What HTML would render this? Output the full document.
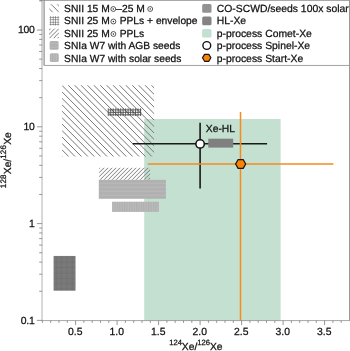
<!DOCTYPE html>
<html><head><meta charset="utf-8"><title>Xe isotope ratios</title>
<style>html,body{margin:0;padding:0;background:#fff;}body{width:350px;height:351px;overflow:hidden;}svg{display:block;}svg{will-change:transform;}text{font-family:"Liberation Sans",sans-serif;fill:#111;stroke:#111;stroke-width:0.25px;text-rendering:geometricPrecision;}</style>
</head><body>
<svg width="350" height="351" viewBox="0 0 350 351">
<defs>
<pattern id="hf" width="4" height="4" patternUnits="userSpaceOnUse" x="100.1" y="167.8"><path d="M-1,5 L5,-1 M-1,1 L1,-1 M3,5 L5,3" stroke="#747474" stroke-width="1.0" fill="none"/></pattern>
<pattern id="hh" width="4" height="4" patternUnits="userSpaceOnUse" x="98.8" y="179.8"><rect width="4" height="4" fill="#b1b1b1"/><path d="M0,3.4 H4" stroke="#bcbcbc" stroke-width="0.7"/></pattern>
<pattern id="hv" width="2.4" height="2.4" patternUnits="userSpaceOnUse" x="112.1" y="201.8"><rect width="2.4" height="2.4" fill="#bababa"/><path d="M0.6,0 V2.4" stroke="#acacac" stroke-width="0.8"/></pattern>
<filter id="bl" x="-5%" y="-30%" width="110%" height="160%"><feGaussianBlur stdDeviation="0.55"/></filter>
</defs>
<rect width="350" height="351" fill="#fff"/>
<rect x="144.2" y="119" width="136.4" height="201.6" fill="#c4e0d1"/>
<clipPath id="cb"><rect x="61.9" y="85.3" width="92.2" height="71.2"/></clipPath>
<path clip-path="url(#cb)" d="M61.9,-17.74 L156.90,77.85 M61.9,-11.30 L156.90,84.29 M61.9,-4.86 L156.90,90.73 M61.9,1.58 L156.90,97.17 M61.9,8.02 L156.90,103.61 M61.9,14.46 L156.90,110.05 M61.9,20.90 L156.90,116.49 M61.9,27.34 L156.90,122.93 M61.9,33.78 L156.90,129.37 M61.9,40.22 L156.90,135.81 M61.9,46.66 L156.90,142.25 M61.9,53.10 L156.90,148.69 M61.9,59.54 L156.90,155.13 M61.9,65.98 L156.90,161.57 M61.9,72.42 L156.90,168.01 M61.9,78.86 L156.90,174.45 M61.9,85.30 L156.90,180.89 M61.9,91.74 L156.90,187.33 M61.9,98.18 L156.90,193.77 M61.9,104.62 L156.90,200.21 M61.9,111.06 L156.90,206.65 M61.9,117.50 L156.90,213.09 M61.9,123.94 L156.90,219.53 M61.9,130.38 L156.90,225.97 M61.9,136.82 L156.90,232.41 M61.9,143.26 L156.90,238.85 M61.9,149.70 L156.90,245.29 M61.9,156.14 L156.90,251.73" stroke="#787878" stroke-width="1.0" fill="none"/>
<path d="M108.26,108.3 V115.9 M110.74,108.3 V115.9 M113.22,108.3 V115.9 M115.70,108.3 V115.9 M118.18,108.3 V115.9 M120.66,108.3 V115.9 M123.14,108.3 V115.9 M125.62,108.3 V115.9 M128.10,108.3 V115.9 M130.58,108.3 V115.9 M133.06,108.3 V115.9 M135.54,108.3 V115.9 M138.02,108.3 V115.9 M140.50,108.3 V115.9 M108.3,109.9 H141.4 M108.3,112.35 H141.4 M108.3,114.8 H141.4" stroke="#4a4a4a" stroke-width="0.85" fill="none"/>
<rect x="99.3" y="167.8" width="50.8" height="11.9" fill="url(#hf)"/>
<rect x="98.8" y="179.8" width="67.1" height="19" fill="url(#hh)"/>
<rect x="112.1" y="201.7" width="46.8" height="10.2" fill="url(#hv)"/>
<rect x="53.8" y="256.1" width="21.5" height="34.6" fill="#a6a6a6"/>
<path d="M54.10,256.1 V290.7 M55.33,256.1 V290.7 M56.56,256.1 V290.7 M57.79,256.1 V290.7 M59.02,256.1 V290.7 M60.25,256.1 V290.7 M61.48,256.1 V290.7 M62.71,256.1 V290.7 M63.94,256.1 V290.7 M65.17,256.1 V290.7 M66.40,256.1 V290.7 M67.63,256.1 V290.7 M68.86,256.1 V290.7 M70.09,256.1 V290.7 M71.32,256.1 V290.7 M72.55,256.1 V290.7 M73.78,256.1 V290.7 M75.01,256.1 V290.7 M53.8,256.40 H75.3 M53.8,257.63 H75.3 M53.8,258.86 H75.3 M53.8,260.09 H75.3 M53.8,261.32 H75.3 M53.8,262.55 H75.3 M53.8,263.78 H75.3 M53.8,265.01 H75.3 M53.8,266.24 H75.3 M53.8,267.47 H75.3 M53.8,268.70 H75.3 M53.8,269.93 H75.3 M53.8,271.16 H75.3 M53.8,272.39 H75.3 M53.8,273.62 H75.3 M53.8,274.85 H75.3 M53.8,276.08 H75.3 M53.8,277.31 H75.3 M53.8,278.54 H75.3 M53.8,279.77 H75.3 M53.8,281.00 H75.3 M53.8,282.23 H75.3 M53.8,283.46 H75.3 M53.8,284.69 H75.3 M53.8,285.92 H75.3 M53.8,287.15 H75.3 M53.8,288.38 H75.3 M53.8,289.61 H75.3" stroke="#585858" stroke-width="0.45" fill="none"/>
<path d="M132.7,143.7 H267.1 M200.1,122.8 V188.4" stroke="#1a1a1a" stroke-width="1.6" fill="none"/>
<rect x="208.3" y="138.7" width="24.9" height="8.9" fill="#808080"/>
<path d="M147.8,163.95 H333.4 M240.5,112 V320.6" stroke="#f58a1f" stroke-width="1.5" fill="none"/>
<circle cx="200.1" cy="143.9" r="4.2" fill="#fff" stroke="#111" stroke-width="1.5"/>
<polygon points="235.60,163.95 238.12,159.50 243.18,159.50 245.70,163.95 243.18,168.40 238.12,168.40" fill="#fb8306" stroke="#151515" stroke-width="1.25" stroke-linejoin="round"/>
<text transform="translate(205.8,132.1)" font-size="10.3">Xe-HL</text>
<path d="M42.050000000000004,0 V320.6" stroke="#c4c4c4" stroke-width="1.3" fill="none"/>
<path d="M41.800000000000004,320.6 H350" stroke="#8a8a8a" stroke-width="0.75" fill="none"/>
<path d="M349.5,0 V320.6" stroke="#999" stroke-width="1" fill="none"/>
<text transform="translate(75.3,335.1)" font-size="10.4" text-anchor="middle">0.5</text>
<text transform="translate(116.8,335.1)" font-size="10.4" text-anchor="middle">1.0</text>
<text transform="translate(158.3,335.1)" font-size="10.4" text-anchor="middle">1.5</text>
<text transform="translate(199.8,335.1)" font-size="10.4" text-anchor="middle">2.0</text>
<text transform="translate(241.3,335.1)" font-size="10.4" text-anchor="middle">2.5</text>
<text transform="translate(282.8,335.1)" font-size="10.4" text-anchor="middle">3.0</text>
<text transform="translate(324.3,335.1)" font-size="10.4" text-anchor="middle">3.5</text>
<text transform="translate(34.4,33.3)" font-size="10.4" letter-spacing="-0.3" text-anchor="end">100</text>
<text transform="translate(34.4,130.1)" font-size="10.4" letter-spacing="-0.3" text-anchor="end">10</text>
<text transform="translate(34.4,226.9)" font-size="10.4" letter-spacing="-0.3" text-anchor="end">1</text>
<text transform="translate(34.4,323.7)" font-size="10.4" letter-spacing="-0.3" text-anchor="end">0.1</text>
<text transform="translate(195.9,350.4)" font-size="10.3" text-anchor="middle"><tspan font-size="7.6" dy="-5">124</tspan><tspan dy="5">Xe/</tspan><tspan font-size="7.6" dy="-5">126</tspan><tspan dy="5">Xe</tspan></text>
<text transform="translate(11.2,160.2) rotate(-90)" font-size="10.3" text-anchor="middle"><tspan font-size="8" letter-spacing="0.2" dy="-5">128</tspan><tspan dy="5">Xe/</tspan><tspan font-size="8" letter-spacing="0.2" dy="-5">126</tspan><tspan dy="5">Xe</tspan></text>
<rect x="42.6" y="0" width="306.4" height="65.4" fill="#fff"/>
<rect x="41.4" y="0" width="2.8" height="65.6" fill="#d0d0d0"/>
<path d="M44.3,0 V65.45 H349" stroke="#828282" stroke-width="0.75" fill="none"/>
<path d="M39.6,0.4 H350" stroke="#929292" stroke-width="0.9" fill="none"/>
<path d="M42.40,320.6 v2.3 M50.70,320.6 v2.3 M59.00,320.6 v2.3 M67.30,320.6 v2.3 M75.60,320.6 v4.5 M83.90,320.6 v2.3 M92.20,320.6 v2.3 M100.50,320.6 v2.3 M108.80,320.6 v2.3 M117.10,320.6 v4.5 M125.40,320.6 v2.3 M133.70,320.6 v2.3 M142.00,320.6 v2.3 M150.30,320.6 v2.3 M158.60,320.6 v4.5 M166.90,320.6 v2.3 M175.20,320.6 v2.3 M183.50,320.6 v2.3 M191.80,320.6 v2.3 M200.10,320.6 v4.5 M208.40,320.6 v2.3 M216.70,320.6 v2.3 M225.00,320.6 v2.3 M233.30,320.6 v2.3 M241.60,320.6 v4.5 M249.90,320.6 v2.3 M258.20,320.6 v2.3 M266.50,320.6 v2.3 M274.80,320.6 v2.3 M283.10,320.6 v4.5 M291.40,320.6 v2.3 M299.70,320.6 v2.3 M308.00,320.6 v2.3 M316.30,320.6 v2.3 M324.60,320.6 v4.5 M332.90,320.6 v2.3 M341.20,320.6 v2.3 M42.2,320.40 h-5.3 M42.2,291.26 h-3 M42.2,274.21 h-3 M42.2,262.12 h-3 M42.2,252.74 h-3 M42.2,245.07 h-3 M42.2,238.59 h-3 M42.2,232.98 h-3 M42.2,228.03 h-3 M42.2,223.60 h-5.3 M42.2,194.46 h-3 M42.2,177.41 h-3 M42.2,165.32 h-3 M42.2,155.94 h-3 M42.2,148.27 h-3 M42.2,141.79 h-3 M42.2,136.18 h-3 M42.2,131.23 h-3 M42.2,126.80 h-5.3 M42.2,97.66 h-3 M42.2,80.61 h-3 M42.2,68.52 h-3 M42.2,59.14 h-3 M42.2,51.47 h-3 M42.2,44.99 h-3 M42.2,39.38 h-3 M42.2,34.43 h-3 M42.2,30.00 h-5.3 M42.2,0.86 h-3" stroke="#7e7e7e" stroke-width="0.8" fill="none"/>
<defs>
<pattern id="hbL" width="6.3" height="6.3" patternUnits="userSpaceOnUse" x="46.8" y="0"><path d="M-1,-1 L7.3,7.3 M-1,5.3 L1,7.3 M5.3,-1 L7.3,1" stroke="#555" stroke-width="0.8" fill="none"/></pattern>
<pattern id="hfL" width="4.2" height="4.2" patternUnits="userSpaceOnUse" x="83.4" y="0"><path d="M-1,5.2 L5.2,-1 M-1,1 L1,-1 M3.2,5.2 L5.2,3.2" stroke="#555" stroke-width="0.8" fill="none"/></pattern>
<pattern id="hgL" width="2.45" height="2.45" patternUnits="userSpaceOnUse" x="49.5" y="16.1"><path d="M0,1.2 H2.45 M1.2,0 V2.45" stroke="#666" stroke-width="0.6" fill="none"/></pattern>
</defs>
<rect x="49.4" y="4.2" width="9.6" height="8" fill="url(#hbL)"/>
<rect x="49.5" y="16.1" width="9.7" height="9.4" fill="url(#hgL)"/>
<rect x="49" y="28.6" width="9.9" height="9.6" fill="url(#hfL)"/>
<rect x="49.6" y="40.9" width="9" height="8.8" rx="1.5" fill="url(#hh)"/>
<rect x="49.8" y="53.3" width="9" height="8.8" rx="1.5" fill="url(#hv)"/>
<text transform="translate(64.1,11.9)" font-size="10.25">SNII 15 M</text>
<circle cx="113.3" cy="9.0" r="2.45" fill="none" stroke="#222" stroke-width="0.75"/><circle cx="113.3" cy="9.0" r="0.7" fill="#222"/>
<text transform="translate(116.3,11.9)" font-size="10.25">–25 M</text>
<circle cx="150.2" cy="9.0" r="2.45" fill="none" stroke="#222" stroke-width="0.75"/><circle cx="150.2" cy="9.0" r="0.7" fill="#222"/>
<text transform="translate(64.1,24.3)" font-size="10.25">SNII 25 M</text>
<circle cx="113.4" cy="21.5" r="2.45" fill="none" stroke="#222" stroke-width="0.75"/><circle cx="113.4" cy="21.5" r="0.7" fill="#222"/>
<text transform="translate(119.7,24.3)" font-size="10.25">PPLs + envelope</text>
<text transform="translate(64.1,36.9)" font-size="10.25">SNII 25 M</text>
<circle cx="113.4" cy="34.0" r="2.45" fill="none" stroke="#222" stroke-width="0.75"/><circle cx="113.4" cy="34.0" r="0.7" fill="#222"/>
<text transform="translate(119.7,36.9)" font-size="10.25">PPLs</text>
<text transform="translate(64.1,49.4)" font-size="10.25">SNIa W7 with AGB seeds</text>
<text transform="translate(64.1,61.9)" font-size="10.25">SNIa W7 with solar seeds</text>
<rect x="202.2" y="4.0" width="9.3" height="8.7" rx="1.5" fill="#929292"/>
<rect x="202.2" y="16.4" width="9.3" height="8.8" rx="1.5" fill="#848484"/>
<rect x="202.1" y="28.9" width="9.4" height="8.6" rx="1.5" fill="#c4e0d1"/>
<circle cx="206.8" cy="45.5" r="3.9" fill="#fff" stroke="#111" stroke-width="1.4"/>
<polygon points="202.50,57.80 204.60,54.35 208.80,54.35 210.90,57.80 208.80,61.25 204.60,61.25" fill="#fb8306" stroke="#151515" stroke-width="1.25" stroke-linejoin="round"/>
<text transform="translate(216.7,11.9)" font-size="10.38">CO-SCWD/seeds 100x solar</text>
<text transform="translate(216.7,24.3)" font-size="10.38">HL-Xe</text>
<text transform="translate(216.7,36.9)" font-size="10.38">p-process Comet-Xe</text>
<text transform="translate(216.7,49.4)" font-size="10.38">p-process Spinel-Xe</text>
<text transform="translate(216.7,61.9)" font-size="10.38">p-process Start-Xe</text>
</svg></body></html>
